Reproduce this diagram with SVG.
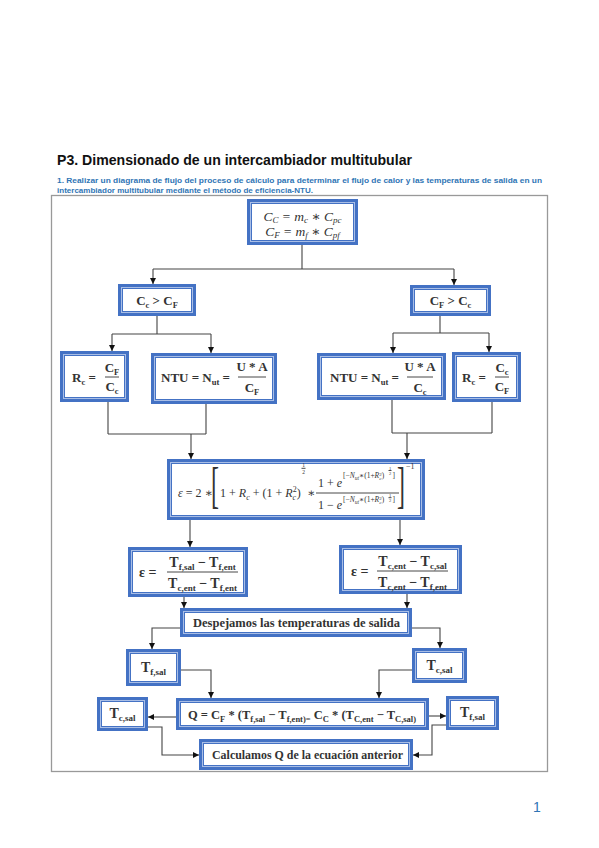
<svg xmlns="http://www.w3.org/2000/svg" width="599" height="848" viewBox="0 0 599 848">
<defs>
<style>
.o{fill:#fff;stroke:#4472C4;stroke-width:3}
.g{fill:none;stroke:#A9BEE6;stroke-width:1}
.i{fill:none;stroke:#4472C4;stroke-width:1}
.lb{font-family:"Liberation Serif","DejaVu Serif",serif;font-weight:bold;fill:#333}
.mt{font-family:"Liberation Serif","DejaVu Serif",serif;fill:#333}
.it{font-style:italic}
.bar{stroke:#333;stroke-width:0.9}
.c{fill:none;stroke:#444;stroke-width:1.1}
.ca{fill:none;stroke:#444;stroke-width:1.1;marker-end:url(#a)}
</style>
<marker id="a" markerWidth="7" markerHeight="7" refX="6" refY="3" orient="auto" markerUnits="userSpaceOnUse"><path d="M0,0 L6,3 L0,6 z" fill="#111"/></marker>
</defs>
<rect width="599" height="848" fill="#fff"/>
<text x="57" y="165" font-family="Liberation Sans,Arial,sans-serif" font-weight="bold" font-size="15" fill="#111" textLength="355" lengthAdjust="spacingAndGlyphs">P3. Dimensionado de un intercambiador multitubular</text>
<text x="57" y="183" font-family="Liberation Sans,Arial,sans-serif" font-weight="bold" font-size="8" fill="#2F75B5" textLength="485" lengthAdjust="spacingAndGlyphs">1. Realizar un diagrama de flujo del proceso de cálculo para determinar el flujo de calor y las temperaturas de salida en un</text>
<text x="57" y="193" font-family="Liberation Sans,Arial,sans-serif" font-weight="bold" font-size="8" fill="#2F75B5" textLength="256" lengthAdjust="spacingAndGlyphs">intercambiador multitubular mediante el método de eficiencia-NTU.</text>
<rect x="51.5" y="195.5" width="496" height="576" fill="none" stroke="#999" stroke-width="1.3"/>

<g id="n-top">
<rect class="o" x="248.5" y="200.5" width="108" height="43"/><rect class="g" x="250.5" y="202.5" width="104" height="39"/><rect class="i" x="251.5" y="203.5" width="102" height="37"/>
<text class="mt it" x="302.5" y="221" font-size="13.5" text-anchor="middle">C<tspan dy="2" font-size="9">C</tspan><tspan dy="-2"> = m</tspan><tspan dy="2" font-size="9">c</tspan><tspan dy="-2"> ∗ C</tspan><tspan dy="2" font-size="9">pc</tspan></text>
<text class="mt it" x="302.5" y="236" font-size="13.5" text-anchor="middle">C<tspan dy="2" font-size="9">F</tspan><tspan dy="-2"> = m</tspan><tspan dy="2" font-size="9">f</tspan><tspan dy="-2"> ∗ C</tspan><tspan dy="2" font-size="9">pf</tspan></text>
</g>

<g id="n-ccgt">
<rect class="o" x="119.5" y="285.5" width="75" height="29"/><rect class="g" x="121.5" y="287.5" width="71" height="25"/><rect class="i" x="122.5" y="288.5" width="69" height="23"/>
<text class="lb" x="157" y="305" font-size="13" text-anchor="middle">C<tspan dy="2.5" font-size="8.5">c</tspan><tspan dy="-2.5"> &gt; C</tspan><tspan dy="2.5" font-size="8.5">F</tspan></text>
</g>

<g id="n-cfgt">
<rect class="o" x="411.5" y="286.5" width="78" height="28"/><rect class="g" x="413.5" y="288.5" width="74" height="24"/><rect class="i" x="414.5" y="289.5" width="72" height="22"/>
<text class="lb" x="450.5" y="305" font-size="13" text-anchor="middle">C<tspan dy="2.5" font-size="8.5">F</tspan><tspan dy="-2.5"> &gt; C</tspan><tspan dy="2.5" font-size="8.5">c</tspan></text>
</g>

<g id="n-rcL">
<rect class="o" x="61.5" y="352.5" width="66" height="48"/><rect class="g" x="63.5" y="354.5" width="62" height="44"/><rect class="i" x="64.5" y="355.5" width="60" height="42"/>
<text class="lb" x="72" y="382" font-size="13">R<tspan dy="2.5" font-size="8.5">c</tspan><tspan dy="-2.5"> =</tspan></text>
<text class="lb" x="112" y="372" font-size="13" text-anchor="middle">C<tspan dy="2.5" font-size="8.5">F</tspan></text>
<line class="bar" x1="105" y1="377" x2="119" y2="377"/>
<text class="lb" x="112" y="391" font-size="13" text-anchor="middle">C<tspan dy="2.5" font-size="8.5">c</tspan></text>
</g>

<g id="n-ntuL">
<rect class="o" x="152.5" y="354.5" width="123" height="48"/><rect class="g" x="154.5" y="356.5" width="119" height="44"/><rect class="i" x="155.5" y="357.5" width="117" height="42"/>
<text class="lb" x="161" y="382" font-size="13">NTU = N<tspan dy="2.5" font-size="8.5">ut</tspan><tspan dy="-2.5"> =</tspan></text>
<text class="lb" x="252" y="371" font-size="13" text-anchor="middle">U * A</text>
<line class="bar" x1="238" y1="377" x2="266" y2="377"/>
<text class="lb" x="252" y="392" font-size="13" text-anchor="middle">C<tspan dy="2.5" font-size="8.5">F</tspan></text>
</g>

<g id="n-ntuR">
<rect class="o" x="318.5" y="354.5" width="126" height="44"/><rect class="g" x="320.5" y="356.5" width="122" height="40"/><rect class="i" x="321.5" y="357.5" width="120" height="38"/>
<text class="lb" x="330" y="382" font-size="13">NTU = N<tspan dy="2.5" font-size="8.5">ut</tspan><tspan dy="-2.5"> =</tspan></text>
<text class="lb" x="420" y="371" font-size="13" text-anchor="middle">U * A</text>
<line class="bar" x1="407" y1="377" x2="433" y2="377"/>
<text class="lb" x="420" y="392" font-size="13" text-anchor="middle">C<tspan dy="2.5" font-size="8.5">c</tspan></text>
</g>

<g id="n-rcR">
<rect class="o" x="453.5" y="353.5" width="66" height="47"/><rect class="g" x="455.5" y="355.5" width="62" height="43"/><rect class="i" x="456.5" y="356.5" width="60" height="41"/>
<text class="lb" x="462" y="382" font-size="13">R<tspan dy="2.5" font-size="8.5">c</tspan><tspan dy="-2.5"> =</tspan></text>
<text class="lb" x="502" y="372" font-size="13" text-anchor="middle">C<tspan dy="2.5" font-size="8.5">c</tspan></text>
<line class="bar" x1="495" y1="377" x2="509" y2="377"/>
<text class="lb" x="502" y="391" font-size="13" text-anchor="middle">C<tspan dy="2.5" font-size="8.5">F</tspan></text>
</g>

<g id="n-eff">
<rect class="o" x="168.5" y="460.5" width="255" height="58"/><rect class="g" x="170.5" y="462.5" width="251" height="54"/><rect class="i" x="171.5" y="463.5" width="249" height="52"/>
<text class="mt" x="178" y="497" font-size="12"><tspan class="it">ε</tspan> = 2 ∗</text>
<text class="mt" font-size="24" transform="translate(211,502) scale(1,2.1)">[</text>
<text class="mt" x="220" y="497" font-size="12">1 + <tspan class="it">R</tspan><tspan dy="3" font-size="8" class="it">c</tspan><tspan dy="-3"> + (1 + </tspan><tspan class="it">R</tspan><tspan dy="3" font-size="8" class="it">c</tspan><tspan dx="-3.5" dy="-8" font-size="8">2</tspan><tspan dy="5">)</tspan></text>
<text class="mt" x="303.5" y="467" font-size="5.5" text-anchor="middle">1</text>
<line class="bar" x1="301.5" y1="468.3" x2="305.5" y2="468.3" stroke-width="0.5"/>
<text class="mt" x="303.5" y="473.5" font-size="5.5" text-anchor="middle">2</text>
<text class="mt" x="307" y="497" font-size="12">∗</text>
<line class="bar" x1="316" y1="493" x2="399" y2="493"/>
<text class="mt" x="318" y="487" font-size="12">1 + <tspan class="it">e</tspan></text>
<text class="mt" x="343" y="478" font-size="7.5">[−<tspan class="it">N</tspan><tspan dy="1.5" font-size="5.5" class="it">ut</tspan><tspan dy="-1.5">∗(1+</tspan><tspan class="it">R</tspan><tspan dy="1.5" font-size="5" class="it">c</tspan><tspan dx="-2.2" dy="-4" font-size="5">2</tspan><tspan dy="2.5">)</tspan></text>
<text class="mt" x="390" y="469.5" font-size="4.5" text-anchor="middle">1</text>
<line class="bar" x1="388.5" y1="470.5" x2="391.5" y2="470.5" stroke-width="0.4"/>
<text class="mt" x="390" y="474.5" font-size="4.5" text-anchor="middle">2</text>
<text class="mt" x="392.5" y="478" font-size="7.5">]</text>
<text class="mt" x="318" y="509" font-size="12">1 − <tspan class="it">e</tspan></text>
<text class="mt" x="343" y="502" font-size="7.5">[−<tspan class="it">N</tspan><tspan dy="1.5" font-size="5.5" class="it">ut</tspan><tspan dy="-1.5">∗(1+</tspan><tspan class="it">R</tspan><tspan dy="1.5" font-size="5" class="it">c</tspan><tspan dx="-2.2" dy="-4" font-size="5">2</tspan><tspan dy="2.5">)</tspan></text>
<text class="mt" x="390" y="496.8" font-size="4.5" text-anchor="middle">1</text>
<line class="bar" x1="388.5" y1="497.7" x2="391.5" y2="497.7" stroke-width="0.4"/>
<text class="mt" x="390" y="501.5" font-size="4.5" text-anchor="middle">2</text>
<text class="mt" x="392.5" y="502" font-size="7.5">]</text>
<text class="mt" font-size="24" transform="translate(397,502) scale(1,2.1)">]</text>
<text class="mt" x="406" y="469" font-size="8">−1</text>
</g>

<g id="n-epsL">
<rect class="o" x="129.5" y="548.5" width="117" height="47"/><rect class="g" x="131.5" y="550.5" width="113" height="43"/><rect class="i" x="132.5" y="551.5" width="111" height="41"/>
<text class="lb" x="139" y="577" font-size="14">ε =</text>
<text class="lb" x="202.5" y="567" font-size="14" text-anchor="middle">T<tspan dy="2.5" font-size="9">f,sal</tspan><tspan dy="-2.5"> − T</tspan><tspan dy="2.5" font-size="9">f,ent</tspan></text>
<line class="bar" x1="167" y1="572" x2="238" y2="572"/>
<text class="lb" x="202.5" y="588" font-size="14" text-anchor="middle">T<tspan dy="2.5" font-size="9">c,ent</tspan><tspan dy="-2.5"> − T</tspan><tspan dy="2.5" font-size="9">f,ent</tspan></text>
</g>

<g id="n-epsR">
<rect class="o" x="340.5" y="546.5" width="120" height="46"/><rect class="g" x="342.5" y="548.5" width="116" height="42"/><rect class="i" x="343.5" y="549.5" width="114" height="40"/>
<text class="lb" x="351" y="576" font-size="14">ε =</text>
<text class="lb" x="412.5" y="566" font-size="14" text-anchor="middle">T<tspan dy="2.5" font-size="9">c,ent</tspan><tspan dy="-2.5"> − T</tspan><tspan dy="2.5" font-size="9">c,sal</tspan></text>
<line class="bar" x1="377" y1="571" x2="448" y2="571"/>
<text class="lb" x="412.5" y="587" font-size="14" text-anchor="middle">T<tspan dy="2.5" font-size="9">c,ent</tspan><tspan dy="-2.5"> − T</tspan><tspan dy="2.5" font-size="9">f,ent</tspan></text>
</g>

<g id="n-desp">
<rect class="o" x="181.5" y="609.5" width="229" height="26"/><rect class="g" x="183.5" y="611.5" width="225" height="22"/><rect class="i" x="184.5" y="612.5" width="223" height="20"/>
<text class="lb" x="296.5" y="627" font-size="13.5" text-anchor="middle" textLength="207" lengthAdjust="spacingAndGlyphs">Despejamos las temperaturas de salida</text>
</g>

<g id="n-tfsalT">
<rect class="o" x="127.5" y="650.5" width="52" height="34"/><rect class="g" x="129.5" y="652.5" width="48" height="30"/><rect class="i" x="130.5" y="653.5" width="46" height="28"/>
<text class="lb" x="153.5" y="672" font-size="14" text-anchor="middle">T<tspan dy="3" font-size="9">f,sal</tspan></text>
</g>

<g id="n-tcsalT">
<rect class="o" x="413.5" y="649.5" width="52" height="32"/><rect class="g" x="415.5" y="651.5" width="48" height="28"/><rect class="i" x="416.5" y="652.5" width="46" height="26"/>
<text class="lb" x="439.5" y="670" font-size="14" text-anchor="middle">T<tspan dy="3" font-size="9">c,sal</tspan></text>
</g>

<g id="n-q">
<rect class="o" x="177.5" y="699.5" width="250" height="29"/><rect class="g" x="179.5" y="701.5" width="246" height="25"/><rect class="i" x="180.5" y="702.5" width="244" height="23"/>
<text class="lb" x="302" y="719" font-size="12.5" text-anchor="middle">Q = C<tspan dy="2.5" font-size="8.5">F</tspan><tspan dy="-2.5"> * (T</tspan><tspan dy="2.5" font-size="8.5">f,sal</tspan><tspan dy="-2.5"> − T</tspan><tspan dy="2.5" font-size="8.5">f,ent)=</tspan><tspan dy="-2.5"> C</tspan><tspan dy="2.5" font-size="8.5">C</tspan><tspan dy="-2.5"> * (T</tspan><tspan dy="2.5" font-size="8.5">C,ent</tspan><tspan dy="-2.5"> − T</tspan><tspan dy="2.5" font-size="8.5">C,sal)</tspan></text>
</g>

<g id="n-tcsalB">
<rect class="o" x="98.5" y="698.5" width="48" height="31"/><rect class="g" x="100.5" y="700.5" width="44" height="27"/><rect class="i" x="101.5" y="701.5" width="42" height="25"/>
<text class="lb" x="122.5" y="718" font-size="14" text-anchor="middle">T<tspan dy="3" font-size="9">c,sal</tspan></text>
</g>

<g id="n-tfsalB">
<rect class="o" x="447.5" y="697.5" width="50" height="31"/><rect class="g" x="449.5" y="699.5" width="46" height="27"/><rect class="i" x="450.5" y="700.5" width="44" height="25"/>
<text class="lb" x="472.5" y="717" font-size="14" text-anchor="middle">T<tspan dy="3" font-size="9">f,sal</tspan></text>
</g>

<g id="n-calc">
<rect class="o" x="200.5" y="740.5" width="211" height="28"/><rect class="g" x="202.5" y="742.5" width="207" height="24"/><rect class="i" x="203.5" y="743.5" width="205" height="22"/>
<text class="lb" x="307.5" y="759" font-size="13" text-anchor="middle" textLength="191" lengthAdjust="spacingAndGlyphs">Calculamos Q de la ecuación anterior</text>
</g>

<g id="connectors">
<path class="c" d="M302,245 V269 M153,269 H454"/>
<path class="ca" d="M153,269 V284"/>
<path class="ca" d="M454,269 V285"/>
<path class="c" d="M157,316 V334 M112,334 H211"/>
<path class="ca" d="M112,334 V351"/>
<path class="ca" d="M211,334 V353"/>
<path class="c" d="M440,316 V333 M393,333 H489"/>
<path class="ca" d="M393,333 V353"/>
<path class="ca" d="M489,333 V352"/>
<path class="c" d="M108,402 V434 M206,404 V434 M108,434 H206"/>
<path class="ca" d="M191,434 V459"/>
<path class="c" d="M392,400 V433 M492,402 V433 M392,433 H492"/>
<path class="ca" d="M407,433 V459"/>
<path class="ca" d="M190,520 V547"/>
<path class="ca" d="M400,520 V545"/>
<path class="ca" d="M184,597 V608"/>
<path class="ca" d="M407,594 V608"/>
<path class="ca" d="M180,628 H152 V649"/>
<path class="ca" d="M412,628 H440 V648"/>
<path class="ca" d="M181,670 H211 V698"/>
<path class="ca" d="M412,670 H379 V698"/>
<path class="ca" d="M176,717 H148"/>
<path class="ca" d="M429,716 H446"/>
<path class="ca" d="M148,727 H162 V755 H199"/>
<path class="ca" d="M446,725 H432 V755 H413"/>
</g>

<text x="537" y="812" font-family="Liberation Sans,Arial,sans-serif" font-size="14" fill="#2F75B5" text-anchor="middle">1</text>
</svg>
